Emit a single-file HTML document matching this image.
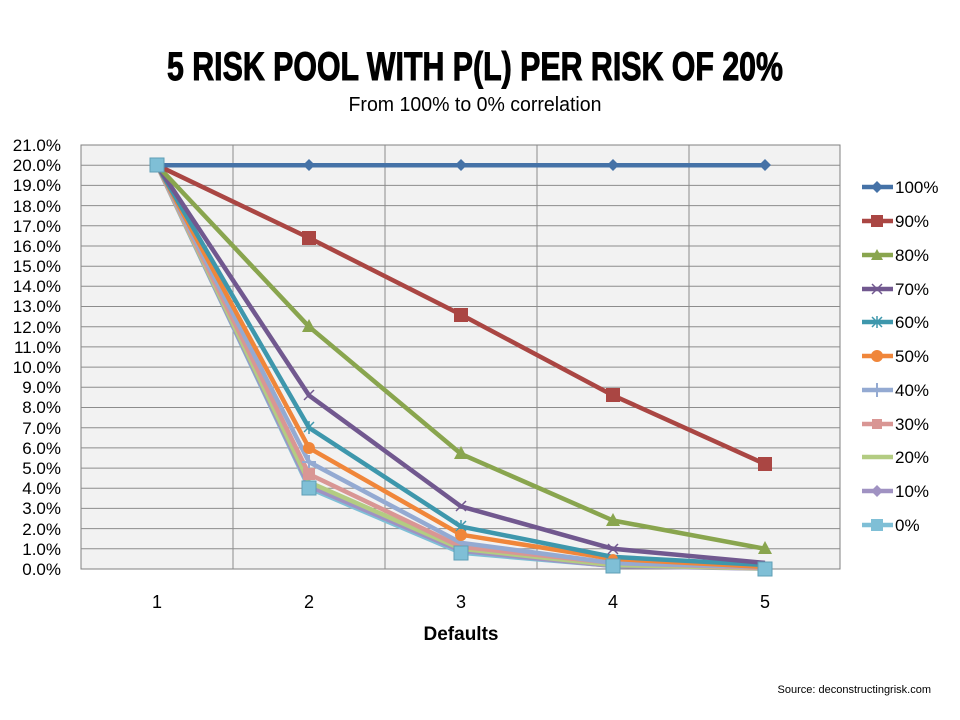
<!DOCTYPE html>
<html><head><meta charset="utf-8"><style>
html,body{margin:0;padding:0;background:#fff;}
svg{display:block;font-family:"Liberation Sans",sans-serif;}
</style></head><body>
<svg width="960" height="720" viewBox="0 0 960 720" xmlns="http://www.w3.org/2000/svg">
<rect width="960" height="720" fill="#fff"/>
<text x="475" y="80" font-size="40" font-weight="bold" text-anchor="middle" textLength="616" lengthAdjust="spacingAndGlyphs" stroke="#000" stroke-width="1" style="font-family:'Liberation Sans Narrow','Liberation Sans',sans-serif">5 RISK POOL WITH P(L) PER RISK OF 20%</text>
<text x="475" y="111" font-size="20" text-anchor="middle" textLength="253" lengthAdjust="spacingAndGlyphs">From 100% to 0% correlation</text>
<rect x="81" y="145" width="759" height="424" fill="#f2f2f2" stroke="#808080" stroke-width="1"/>
<g stroke="#8c8c8c" stroke-width="1">
<line x1="81" x2="840" y1="165.2" y2="165.2"/><line x1="81" x2="840" y1="185.4" y2="185.4"/><line x1="81" x2="840" y1="205.6" y2="205.6"/><line x1="81" x2="840" y1="225.8" y2="225.8"/><line x1="81" x2="840" y1="246" y2="246"/><line x1="81" x2="840" y1="266.2" y2="266.2"/><line x1="81" x2="840" y1="286.3" y2="286.3"/><line x1="81" x2="840" y1="306.5" y2="306.5"/><line x1="81" x2="840" y1="326.7" y2="326.7"/><line x1="81" x2="840" y1="346.9" y2="346.9"/><line x1="81" x2="840" y1="367.1" y2="367.1"/><line x1="81" x2="840" y1="387.3" y2="387.3"/><line x1="81" x2="840" y1="407.5" y2="407.5"/><line x1="81" x2="840" y1="427.7" y2="427.7"/><line x1="81" x2="840" y1="447.9" y2="447.9"/><line x1="81" x2="840" y1="468.1" y2="468.1"/><line x1="81" x2="840" y1="488.2" y2="488.2"/><line x1="81" x2="840" y1="508.4" y2="508.4"/><line x1="81" x2="840" y1="528.6" y2="528.6"/><line x1="81" x2="840" y1="548.8" y2="548.8"/>
<line x1="233" x2="233" y1="145" y2="569"/><line x1="385" x2="385" y1="145" y2="569"/><line x1="537" x2="537" y1="145" y2="569"/><line x1="689" x2="689" y1="145" y2="569"/>
</g>
<g font-size="17" text-anchor="end" fill="#000">
<text x="61" y="151">21.0%</text><text x="61" y="171">20.0%</text><text x="61" y="191">19.0%</text><text x="61" y="212">18.0%</text><text x="61" y="232">17.0%</text><text x="61" y="252">16.0%</text><text x="61" y="272">15.0%</text><text x="61" y="292">14.0%</text><text x="61" y="312">13.0%</text><text x="61" y="333">12.0%</text><text x="61" y="353">11.0%</text><text x="61" y="373">10.0%</text><text x="61" y="393">9.0%</text><text x="61" y="413">8.0%</text><text x="61" y="434">7.0%</text><text x="61" y="454">6.0%</text><text x="61" y="474">5.0%</text><text x="61" y="494">4.0%</text><text x="61" y="514">3.0%</text><text x="61" y="535">2.0%</text><text x="61" y="555">1.0%</text><text x="61" y="575">0.0%</text>
</g>
<g font-size="18" text-anchor="middle">
<text x="157" y="608">1</text><text x="309" y="608">2</text><text x="461" y="608">3</text><text x="613" y="608">4</text><text x="765" y="608">5</text>
</g>
<text x="461" y="640" font-size="19" font-weight="bold" text-anchor="middle">Defaults</text>
<g fill="none" stroke-width="4.5" stroke-linejoin="round">
<polyline stroke="#7fbfd6" points="157,165.2 309,488.2 461,552.8 613,565.8 765,568.4"/>
<polyline stroke="#a092c2" points="157,165.2 309,486.2 461,550.8 613,566 765,568.6"/>
<polyline stroke="#b3cc82" points="157,165.2 309,482.2 461,548.8 613,565 765,568.4"/>
<polyline stroke="#d99694" points="157,165.2 309,474.1 461,546.8 613,563 765,568"/>
<polyline stroke="#94aad2" points="157,165.2 309,462 461,542.8 613,563 765,567"/>
<polyline stroke="#f0863a" points="157,165.2 309,447.9 461,534.7 613,558.9 765,567"/>
<polyline stroke="#3e97ac" points="157,165.2 309,427.7 461,526.6 613,556.9 765,565"/>
<polyline stroke="#71588f" points="157,165.2 309,395.4 461,506.4 613,548.8 765,562.9"/>
<polyline stroke="#89a54e" points="157,165.2 309,326.7 461,453.9 613,520.5 765,548.8"/>
<polyline stroke="#aa4643" points="157,165.2 309,237.9 461,314.6 613,395.4 765,464"/>
<polyline stroke="#4572a7" points="157,165.2 309,165.2 461,165.2 613,165.2 765,165.2"/>
</g>
<g fill="#4572a7"><path d="M309,159 l6,6 -6,6 -6,-6z"/><path d="M461,159 l6,6 -6,6 -6,-6z"/><path d="M613,159 l6,6 -6,6 -6,-6z"/><path d="M765,159 l6,6 -6,6 -6,-6z"/></g>
<g fill="#aa4643"><rect x="302" y="231" width="14" height="14"/><rect x="454" y="308" width="14" height="14"/><rect x="606" y="388" width="14" height="14"/><rect x="758" y="457" width="14" height="14"/></g>
<g fill="#89a54e"><path d="M309,319 l7,13 h-14z"/><path d="M461,446 l7,13 h-14z"/><path d="M613,513 l7,13 h-14z"/><path d="M765,541 l7,13 h-14z"/></g>
<g stroke="#71588f" stroke-width="1.5"><path d="M304,390 l10,10 M314,390 l-10,10"/><path d="M456,501 l10,10 M466,501 l-10,10"/><path d="M608,544 l10,10 M618,544 l-10,10"/></g>
<g stroke="#3e97ac" stroke-width="1.5"><path d="M304,422 l10,10 M314,422 l-10,10 M309,421 v13"/><path d="M456,521 l10,10 M466,521 l-10,10 M461,520 v13"/></g>
<g fill="#f0863a"><circle cx="309" cy="448" r="6"/><circle cx="461" cy="535" r="6"/><circle cx="613" cy="559" r="5"/></g>
<path d="M309,455 v14 M302,462 h14" stroke="#94aad2" stroke-width="2"/>
<rect x="303" y="468" width="12" height="12" fill="#d99694"/>
<path d="M309,480 l6,6 -6,6 -6,-6z" fill="#a092c2"/>
<g fill="#7fbfd6" stroke="#5f9fb6" stroke-width="1"><rect x="150" y="158" width="14" height="14"/><rect x="302" y="481" width="14" height="14"/><rect x="454" y="546" width="14" height="14"/><rect x="606" y="559" width="14" height="14"/><rect x="758" y="562" width="14" height="14"/></g>
<g stroke-width="4.5">
<line x1="862" x2="893" y1="187" y2="187" stroke="#4572a7"/>
<line x1="862" x2="893" y1="221" y2="221" stroke="#aa4643"/>
<line x1="862" x2="893" y1="255" y2="255" stroke="#89a54e"/>
<line x1="862" x2="893" y1="289" y2="289" stroke="#71588f"/>
<line x1="862" x2="893" y1="322" y2="322" stroke="#3e97ac"/>
<line x1="862" x2="893" y1="356" y2="356" stroke="#f0863a"/>
<line x1="862" x2="893" y1="390" y2="390" stroke="#94aad2"/>
<line x1="862" x2="893" y1="424" y2="424" stroke="#d99694"/>
<line x1="862" x2="893" y1="457" y2="457" stroke="#b3cc82"/>
<line x1="862" x2="893" y1="491" y2="491" stroke="#a092c2"/>
<line x1="862" x2="893" y1="525" y2="525" stroke="#7fbfd6"/>
</g>
<path d="M877,181 l6,6 -6,6 -6,-6z" fill="#4572a7"/>
<rect x="871" y="215" width="12" height="12" fill="#aa4643"/>
<path d="M877,249 l6,11 h-12z" fill="#89a54e"/>
<path d="M872,284 l10,10 M882,284 l-10,10" stroke="#71588f" stroke-width="1.5"/>
<path d="M872,317 l10,10 M882,317 l-10,10 M877,316 v12" stroke="#3e97ac" stroke-width="1.5"/>
<circle cx="877" cy="356" r="6" fill="#f0863a"/>
<path d="M877,383 v14 M870,390 h14" stroke="#94aad2" stroke-width="2"/>
<rect x="872" y="419" width="10" height="10" fill="#d99694"/>
<path d="M877,485 l6,6 -6,6 -6,-6z" fill="#a092c2"/>
<rect x="871" y="519" width="12" height="12" fill="#7fbfd6"/>
<g font-size="17">
<text x="895" y="193">100%</text><text x="895" y="227">90%</text><text x="895" y="261">80%</text><text x="895" y="295">70%</text><text x="895" y="328">60%</text><text x="895" y="362">50%</text><text x="895" y="396">40%</text><text x="895" y="430">30%</text><text x="895" y="463">20%</text><text x="895" y="497">10%</text><text x="895" y="531">0%</text>
</g>
<text x="931" y="693" font-size="11" text-anchor="end">Source: deconstructingrisk.com</text>
</svg>
</body></html>
